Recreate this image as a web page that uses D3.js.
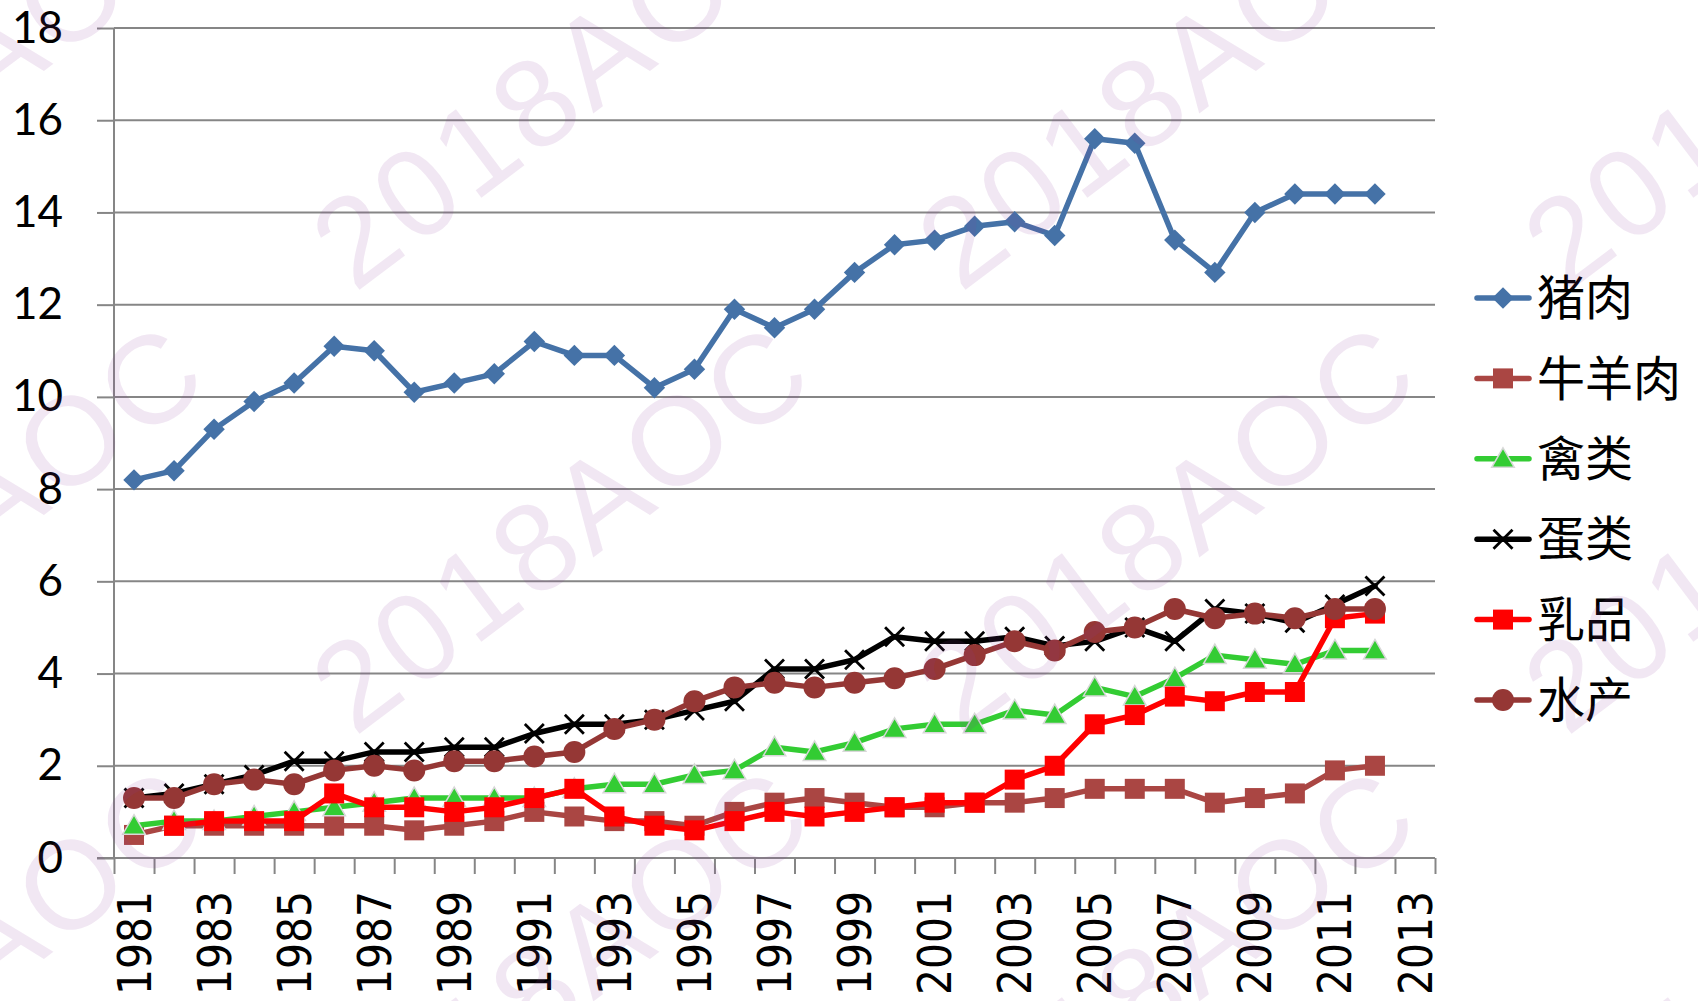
<!DOCTYPE html>
<html lang="zh">
<head>
<meta charset="utf-8">
<script src="https://d3js.org/d3.v7.min.js"></script>
<style>
  body { margin: 0; background: #fff; }
  svg { display: block; }
  .ylab text { font: 44px Lato, sans-serif; fill: #000; }
  .xlab { font: 46px "DejaVu Sans", sans-serif; fill: #000; }
  .legend text { font: 48px "Noto Sans CJK SC", sans-serif; fill: #000; }
</style>
</head>
<body>
<svg width="1698" height="1001"></svg>
<script>
// categories (2013 is on the axis but has no data)
var years = d3.range(1981, 2014);
var yTicks = [0, 2, 4, 6, 8, 10, 12, 14, 16, 18];

// series, 1981..2012
var pork    = [8.2, 8.4, 9.3, 9.9, 10.3, 11.1, 11.0, 10.1, 10.3, 10.5, 11.2, 10.9, 10.9, 10.2, 10.6, 11.9,
               11.5, 11.9, 12.7, 13.3, 13.4, 13.7, 13.8, 13.5, 15.6, 15.5, 13.4, 12.7, 14.0, 14.4, 14.4, 14.4];
var beef    = [0.5, 0.7, 0.7, 0.7, 0.7, 0.7, 0.7, 0.6, 0.7, 0.8, 1.0, 0.9, 0.8, 0.8, 0.7, 1.0,
               1.2, 1.3, 1.2, 1.1, 1.1, 1.2, 1.2, 1.3, 1.5, 1.5, 1.5, 1.2, 1.3, 1.4, 1.9, 2.0];
var poultry = [0.7, 0.8, 0.8, 0.9, 1.0, 1.1, 1.2, 1.3, 1.3, 1.3, 1.3, 1.5, 1.6, 1.6, 1.8, 1.9,
               2.4, 2.3, 2.5, 2.8, 2.9, 2.9, 3.2, 3.1, 3.7, 3.5, 3.9, 4.4, 4.3, 4.2, 4.5, 4.5];
var eggs    = [1.3, 1.4, 1.6, 1.8, 2.1, 2.1, 2.3, 2.3, 2.4, 2.4, 2.7, 2.9, 2.9, 3.0, 3.2, 3.4,
               4.1, 4.1, 4.3, 4.8, 4.7, 4.7, 4.8, 4.6, 4.7, 5.0, 4.7, 5.4, 5.3, 5.1, 5.5, 5.9];
var dairy   = [null, 0.7, 0.8, 0.8, 0.8, 1.4, 1.1, 1.1, 1.0, 1.1, 1.3, 1.5, 0.9, 0.7, 0.6, 0.8,
               1.0, 0.9, 1.0, 1.1, 1.2, 1.2, 1.7, 2.0, 2.9, 3.1, 3.5, 3.4, 3.6, 3.6, 5.2, 5.3];
var aquatic = [1.3, 1.3, 1.6, 1.7, 1.6, 1.9, 2.0, 1.9, 2.1, 2.1, 2.2, 2.3, 2.8, 3.0, 3.4, 3.7,
               3.8, 3.7, 3.8, 3.9, 4.1, 4.4, 4.7, 4.5, 4.9, 5.0, 5.4, 5.2, 5.3, 5.2, 5.4, 5.4];

var series = [
  { name: "猪肉",   values: pork,    color: "#4572A7", marker: "diamond" },
  { name: "牛羊肉", values: beef,    color: "#AA4643", marker: "square" },
  { name: "禽类",   values: poultry, color: "#33CC33", marker: "triangle" },
  { name: "蛋类",   values: eggs,    color: "#000000", marker: "x" },
  { name: "乳品",   values: dairy,   color: "#FF0000", marker: "square" },
  { name: "水产",   values: aquatic, color: "#953735", marker: "circle" }
];

var svg = d3.select("svg");
// plot box (window.top is read-only, so no bare "top" here)
var plotL = 114, plotR = 1435, plotT = 28, plotB = 858;

var x = d3.scaleBand().domain(years).range([plotL, plotR]);
var xEdge = d3.scaleLinear().domain([0, years.length]).range([plotL, plotR]);
var y = d3.scaleLinear().domain([0, 18]).range([plotB, plotT]);
var cx = function(yr) { return x(yr) + x.bandwidth() / 2; };

// gridlines
svg.append("g").selectAll("line")
  .data(yTicks.slice(1))
  .join("line")
    .attr("x1", plotL).attr("x2", plotR)
    .attr("y1", function(d) { return y(d); }).attr("y2", function(d) { return y(d); })
    .attr("stroke", "#868686").attr("stroke-width", 2);

// y axis
var yAxis = svg.append("g").attr("class", "ylab")
  .attr("transform", "translate(" + plotL + ",0)")
  .call(d3.axisLeft(y).tickValues(yTicks).tickSize(17).tickPadding(34));
yAxis.selectAll("line, path").attr("stroke", "#868686").attr("stroke-width", 2);
yAxis.select(".domain").attr("d", "M0," + plotB + "V" + plotT);

// x axis: ticks on category edges
var xAxis = svg.append("g")
  .attr("transform", "translate(0," + plotB + ")")
  .call(d3.axisBottom(xEdge).tickValues(d3.range(years.length + 1)).tickFormat("").tickSize(16));
xAxis.selectAll("line, path").attr("stroke", "#868686").attr("stroke-width", 2);
xAxis.select(".domain").attr("d", "M" + (plotL - 17) + ",0H" + plotR);

svg.append("g").selectAll("text")
  .data(years.filter(function(d) { return d % 2 === 1; }))
  .join("text")
    .attr("class", "xlab")
    .attr("transform", function(d) { return "translate(" + cx(d) + ",891) rotate(-90)"; })
    .attr("text-anchor", "end")
    .attr("dy", "0.36em")
    .attr("textLength", 104)
    .attr("lengthAdjust", "spacingAndGlyphs")
    .text(function(d) { return d; });

// markers
function drawMarker(sel, s) {
  if (s.marker === "diamond") {
    sel.append("path").attr("d", d3.symbol(d3.symbolSquare, 230)())
      .attr("transform", "rotate(45)").attr("fill", s.color);
  } else if (s.marker === "square") {
    sel.append("path").attr("d", d3.symbol(d3.symbolSquare, 400)())
      .attr("fill", s.color);
  } else if (s.marker === "triangle") {
    sel.append("path").attr("d", d3.symbol(d3.symbolTriangle, 220)())
      .attr("transform", "translate(0,2)")
      .attr("fill", s.color).attr("stroke", "#d8d8d8").attr("stroke-width", 1.5);
  } else if (s.marker === "circle") {
    sel.append("circle").attr("r", 11).attr("fill", s.color);
  } else {
    sel.append("path").attr("d", "M-9.5,-9.5L9.5,9.5M-9.5,9.5L9.5,-9.5")
      .attr("stroke", s.color).attr("stroke-width", 2.8).attr("fill", "none");
  }
}

var line = d3.line()
  .defined(function(d) { return d.v != null; })
  .x(function(d) { return cx(d.year); })
  .y(function(d) { return y(d.v); });

series.forEach(function(s) {
  var pts = s.values.map(function(v, i) { return { year: years[i], v: v }; });
  var g = svg.append("g");
  g.append("path").datum(pts)
    .attr("d", line)
    .attr("fill", "none")
    .attr("stroke", s.color)
    .attr("stroke-width", 5.5)
    .attr("stroke-linejoin", "round")
    .attr("stroke-linecap", "round");
  g.selectAll("g.m")
    .data(pts.filter(function(d) { return d.v != null; }))
    .join("g")
      .attr("class", "m")
      .attr("transform", function(d) { return "translate(" + cx(d.year) + "," + y(d.v) + ")"; })
      .each(function() { drawMarker(d3.select(this), s); });
});

// legend
var legend = svg.append("g").attr("class", "legend");
series.forEach(function(s, i) {
  var row = legend.append("g").attr("transform", "translate(0," + (298 + i * 80.4) + ")");
  row.append("line").attr("x1", 1477).attr("x2", 1529)
    .attr("stroke", s.color).attr("stroke-width", 5.5).attr("stroke-linecap", "round");
  drawMarker(row.append("g").attr("transform", "translate(1503,0)"), s);
  row.append("text").attr("x", 1537).attr("dy", "0.36em").text(s.name);
});

// watermark
var wmX = [-47, 559, 1165, 1771], wmY = [83, 527, 971];
var wm = svg.append("g").attr("pointer-events", "none");
wmY.forEach(function(wy) {
  wmX.forEach(function(wx) {
    wm.append("text")
      .attr("transform", "translate(" + wx + "," + wy + ") rotate(-37)")
      .attr("text-anchor", "middle")
      .attr("dy", "0.36em")
      .attr("textLength", 580)
      .style("font", "125px 'Liberation Sans', sans-serif")
      .attr("fill", "#8B3A9B")
      .attr("fill-opacity", 0.12)
      .text("2018AOC");
  });
});
</script>
</body>
</html>
